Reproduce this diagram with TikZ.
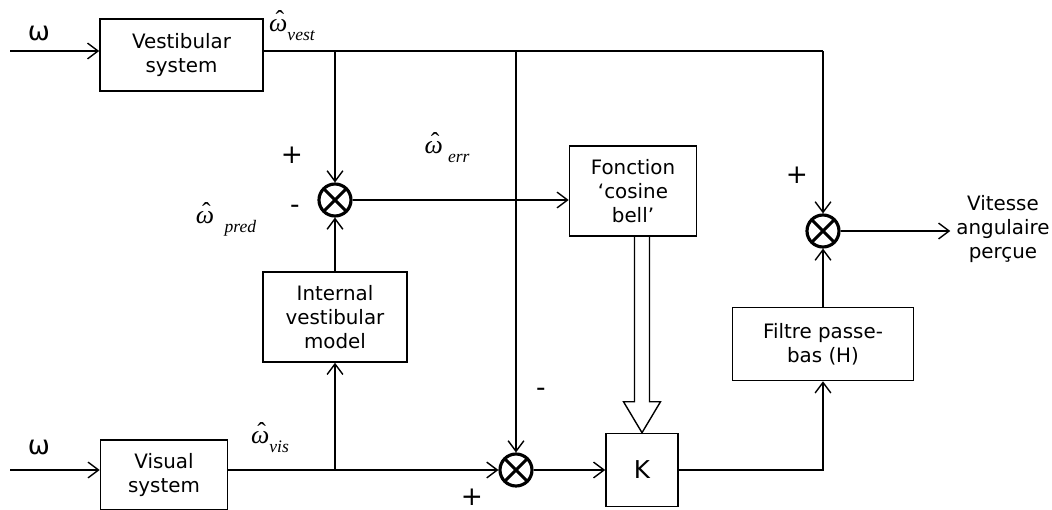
\documentclass[tikz,border=0pt]{standalone}
\usepackage{fontspec}
\setmainfont{DejaVu Sans}
\newfontfamily\tnr{Liberation Serif}
\usetikzlibrary{arrows.meta,positioning,calc}

\newcommand{\omhat}[2][0pt]{{\tnr\ooalign{\itshape ω\cr\hidewidth\kern0.12em\raisebox{0.25ex}{ˆ}\hidewidth\cr}}\hspace{#1}\raisebox{-0.6ex}{\fontsize{10}{12}\selectfont\tnr\itshape #2}}

\begin{document}
\begin{tikzpicture}[
    x=0.02cm, y=-0.02cm,
    box/.style={draw, line width=0.9pt, align=center, inner sep=2pt},
    sum/.style={circle, draw, line width=1.8pt, minimum size=0.64cm, inner sep=0pt,
                path picture={\draw[line width=1.8pt]
                  (path picture bounding box.north west) -- (path picture bounding box.south east)
                  (path picture bounding box.north east) -- (path picture bounding box.south west);}},
    arr/.style={-{Straight Barb[length=6pt,width=9pt]}, line width=0.8pt},
    wire/.style={line width=0.8pt},
    sig/.style={font=\fontsize{14.7}{16}\selectfont},
    sgn/.style={font=\fontsize{15}{16}\selectfont},
    every node/.style={font=\fontsize{11.3}{13.6}\selectfont}
  ]
  \useasboundingbox (0,0) rectangle (1052,510);

  %% ---- blocks ----
  \node[box, minimum width=3.26cm, minimum height=1.44cm] (vest)  at (181.5,55) {Vestibular\\system};
  \node[box, minimum width=2.54cm, minimum height=1.4cm]  (vis)   at (164,475)  {Visual\\system};
  \node[box, minimum width=2.88cm, minimum height=1.8cm]  (model) at (335,317)  {Internal\\vestibular\\model};
  \node[box, minimum width=2.54cm, minimum height=1.8cm]  (bell)  at (633,191)  {Fonction\\‘cosine\\bell’};
  \node[box, minimum width=1.44cm, minimum height=1.46cm, font=\fontsize{14}{16}\selectfont] (K) at (642,470) {K};
  \node[box, minimum width=3.62cm, minimum height=1.46cm] (filt)  at (823,344)  {Filtre passe-\\bas (H)};
  \node[align=center] (out) at (1003,229) {Vitesse\\angulaire\\perçue};

  %% ---- summing junctions ----
  \node[sum] (s1) at (335,200) {};
  \node[sum] (s2) at (516,470) {};
  \node[sum] (s3) at (823,231) {};

  %% ---- inputs ----
  \coordinate (in1) at (10,51);
  \coordinate (in2) at (10,470);
  \node[sgn] (w1) at (39,33)  {ω};
  \node[sgn] (w2) at (39,447) {ω};
  \draw[arr] (in1) -- (in1 -| vest.west);
  \draw[arr] (in2) -- (in2 -| vis.west);

  %% ---- vestibular branch ----
  \coordinate (j1) at (s1 |- in1);
  \coordinate (j2) at (s2 |- in1);
  \coordinate (j3) at (s3 |- in1);
  \draw[wire] (in1 -| vest.east) -- (j3);
  \draw[arr] (j1) -- (s1);
  \draw[arr] (j2) -- (s2);
  \draw[arr] (j3) -- (s3);
  \draw[arr] (model) -- (s1);
  \draw[arr] (s1) -- (s1 -| bell.west);

  %% ---- visual branch ----
  \coordinate (j4) at (model |- in2);
  \draw[arr] (in2 -| vis.east) -- (s2);
  \draw[arr] (j4) -- (model);
  \draw[arr] (s2) -- (K);
  \draw[arr] (K) -| (filt);
  \draw[arr] (filt) -- (s3);
  \draw[arr] (s3) -- (s3 -| out.west);

  %% ---- hollow arrow into K ----
  \draw[wire] ($(bell.south -| K)+(-7.5,0)$) -- ($(K.north)+(-7.5,-31)$)
    -- ($(K.north)+(-18.5,-31)$) -- (K.north) -- ($(K.north)+(18.5,-31)$)
    -- ($(K.north)+(7.5,-31)$) -- ($(bell.south -| K)+(7.5,0)$);

  %% ---- signal labels ----
  \node[sig] (lvest) at (292,30)  {\omhat{vest}};
  \node[sig] (lerr)  at (447,152) {\omhat[3pt]{err}};
  \node[sig] (lpred) at (226,224) {\omhat[6pt]{pred}};
  \node[sig] (lvis)  at (270,442) {\omhat{vis}};

  %% ---- signs ----
  \node[sgn] (p1) at (292,155) {+};
  \node[sgn] (m1) at (295,209) {-};
  \node[sgn] (m2) at (541,392) {-};
  \node[sgn] (p2) at (472,497) {+};
  \node[sgn] (p3) at (797,175) {+};

\end{tikzpicture}
\end{document}
